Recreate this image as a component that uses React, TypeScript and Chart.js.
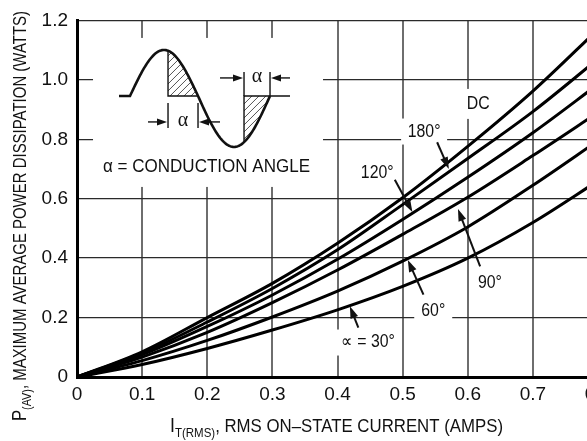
import React, { useEffect, useRef } from 'react';
import { Chart, registerables } from 'chart.js';

Chart.register(...registerables);

// ---------- data ----------
const xCurrent = [0, 0.1, 0.2, 0.3, 0.4, 0.5, 0.6, 0.7, 0.8];
const powerDC = [0, 0.085, 0.2, 0.315, 0.45, 0.603, 0.776, 0.962, 1.17];
const power180 = [0, 0.08, 0.185, 0.298, 0.428, 0.58, 0.735, 0.893, 1.07];
const power120 = [0, 0.075, 0.17, 0.276, 0.396, 0.53, 0.672, 0.822, 0.985];
const power90 = [0, 0.067, 0.15, 0.25, 0.36, 0.48, 0.605, 0.745, 0.89];
const power60 = [0, 0.055, 0.123, 0.202, 0.289, 0.39, 0.505, 0.645, 0.795];
const power30 = [0, 0.042, 0.096, 0.158, 0.226, 0.305, 0.4, 0.52, 0.66];

const seriesNames = ['DC', '180°', '120°', '90°', '60°', '30°'];
const seriesValues = [powerDC, power180, power120, power90, power60, power30];

const xTickLabels = ['0', '0.1', '0.2', '0.3', '0.4', '0.5', '0.6', '0.7', '0.8'];
const yTickLabels = ['0', '0.2', '0.4', '0.6', '0.8', '1.0', '1.2'];

const curveLabelTexts = ['DC', '180°', '120°', '90°', '60°', '∝ = 30°'];

// ---------- annotation layout (data coordinates) ----------
const labelAnchors = [
  { x: 0.616, y: 0.919, box: true, bw: 32, bh: 30 },
  { x: 0.533, y: 0.826, box: true, bw: 46, bh: 26 },
  { x: 0.461, y: 0.685, box: true, bw: 40, bh: 22 },
  { x: 0.634, y: 0.315, box: true, bw: 34, bh: 22 },
  { x: 0.547, y: 0.222, box: true, bw: 38, bh: 24 },
  { x: 0.447, y: 0.116, box: true, bw: 66, bh: 26 },
];
// arrows: from (x1,y1) to tip (x2,y2), data coords
const arrowDefs = [
  { x1: 0.553, y1: 0.79, x2: 0.571, y2: 0.7 },
  { x1: 0.488, y1: 0.664, x2: 0.515, y2: 0.555 },
  { x1: 0.619, y1: 0.372, x2: 0.585, y2: 0.565 },
  { x1: 0.532, y1: 0.277, x2: 0.508, y2: 0.394 },
  { x1: 0.432, y1: 0.166, x2: 0.419, y2: 0.238 },
];
const insetTopLeft = { x: 0.0246, y: 1.141 };

const CW = 620;
const CH = 441;
const FONT = "'Liberation Sans', Arial, sans-serif";
const TICK_FONT = "'Liberation Sans Narrow', 'Liberation Sans', Arial, sans-serif";

function drawArrow(ctx: CanvasRenderingContext2D, x1: number, y1: number, x2: number, y2: number, hl = 11, hw = 3.6) {
  const a = Math.atan2(y2 - y1, x2 - x1);
  const c = Math.cos(a), s = Math.sin(a);
  ctx.beginPath();
  ctx.moveTo(x1, y1);
  ctx.lineTo(x2 - c * hl * 0.7, y2 - s * hl * 0.7);
  ctx.stroke();
  ctx.beginPath();
  ctx.moveTo(x2, y2);
  ctx.lineTo(x2 - hl * c + hw * s, y2 - hl * s - hw * c);
  ctx.lineTo(x2 - hl * c - hw * s, y2 - hl * s + hw * c);
  ctx.closePath();
  ctx.fill();
}

function condText(ctx: CanvasRenderingContext2D, text: string, cx: number, cy: number, font: string, sx: number) {
  ctx.save();
  ctx.translate(cx, cy);
  ctx.scale(sx, 1);
  ctx.font = font;
  ctx.textAlign = 'center';
  ctx.textBaseline = 'middle';
  ctx.fillText(text, 0, 0);
  ctx.restore();
}

type Seg = { t: string; size: number; dy: number };
function drawSegments(ctx: CanvasRenderingContext2D, segs: Seg[], length: number) {
  let total = 0;
  const widths = segs.map((s) => {
    ctx.font = `${s.size}px ${FONT}`;
    const w = ctx.measureText(s.t).width;
    total += w;
    return w;
  });
  const sx = length / total;
  ctx.save();
  ctx.scale(sx, 1);
  let x = 0;
  segs.forEach((s, i) => {
    ctx.font = `${s.size}px ${FONT}`;
    ctx.textAlign = 'left';
    ctx.textBaseline = 'alphabetic';
    ctx.fillText(s.t, x, s.dy);
    x += widths[i];
  });
  ctx.restore();
}

function drawInset(ctx: CanvasRenderingContext2D, ox: number, oy: number) {
  const base = oy + 58;
  const p0 = ox + 37, p1 = ox + 105, p2 = ox + 177;
  const posY = (x: number) => base - 46 * Math.sin((Math.PI * (x - p0)) / (p1 - p0));
  const negY = (x: number) => base + 51 * Math.sin((Math.PI * (x - p1)) / (p2 - p1));
  const curveY = (x: number) => (x <= p1 ? posY(x) : negY(x));

  ctx.save();
  // hatch region 1
  const h1a = ox + 75;
  ctx.save();
  ctx.beginPath();
  ctx.moveTo(h1a, base);
  for (let x = h1a; x <= p1; x += 1) ctx.lineTo(x, curveY(x));
  ctx.lineTo(p1, base);
  ctx.closePath();
  ctx.clip();
  ctx.strokeStyle = '#555';
  ctx.lineWidth = 1;
  for (let k = -80; k < 120; k += 7) {
    ctx.beginPath();
    ctx.moveTo(h1a + k, base + 5);
    ctx.lineTo(h1a + k + 60, base - 55);
    ctx.stroke();
  }
  ctx.restore();
  // hatch region 2
  const h2a = ox + 151;
  ctx.save();
  ctx.beginPath();
  ctx.moveTo(h2a, base);
  for (let x = h2a; x <= p2; x += 1) ctx.lineTo(x, curveY(x));
  ctx.lineTo(p2, base);
  ctx.closePath();
  ctx.clip();
  ctx.strokeStyle = '#555';
  ctx.lineWidth = 1;
  for (let k = -80; k < 120; k += 7) {
    ctx.beginPath();
    ctx.moveTo(h2a + k, base + 60);
    ctx.lineTo(h2a + k + 60, base);
    ctx.stroke();
  }
  ctx.restore();

  ctx.strokeStyle = '#111';
  ctx.fillStyle = '#111';
  // sine curve
  ctx.lineWidth = 2.6;
  ctx.beginPath();
  ctx.moveTo(ox + 26, base);
  ctx.lineTo(p0, base);
  for (let x = p0; x <= p2; x += 1) ctx.lineTo(x, curveY(x));
  ctx.stroke();

  ctx.lineWidth = 1.4;
  // hatch borders
  ctx.beginPath();
  ctx.moveTo(h1a, curveY(h1a));
  ctx.lineTo(h1a, base);
  ctx.lineTo(p1, base);
  ctx.moveTo(h2a, curveY(h2a));
  ctx.lineTo(h2a, base);
  ctx.lineTo(ox + 197, base);
  ctx.stroke();
  // dimension lines
  ctx.beginPath();
  ctx.moveTo(h1a, oy + 65); ctx.lineTo(h1a, oy + 90);
  ctx.moveTo(p1, oy + 65); ctx.lineTo(p1, oy + 90);
  ctx.moveTo(h2a, oy + 34); ctx.lineTo(h2a, base);
  ctx.moveTo(p2, oy + 34); ctx.lineTo(p2, base);
  ctx.stroke();
  drawArrow(ctx, ox + 55, oy + 84, h1a - 1, oy + 84, 10, 3.5);
  drawArrow(ctx, ox + 127, oy + 84, p1 + 1, oy + 84, 10, 3.5);
  drawArrow(ctx, ox + 127, oy + 40, h2a - 1, oy + 40, 10, 3.5);
  drawArrow(ctx, ox + 197, oy + 40, p2 + 1, oy + 40, 10, 3.5);
  ctx.font = "20px 'Liberation Serif', serif";
  ctx.textAlign = 'center';
  ctx.textBaseline = 'middle';
  ctx.fillText('α', ox + 90, oy + 83);
  ctx.fillText('α', ox + 164, oy + 39);
  // caption
  ctx.save();
  ctx.translate(ox + 10, oy + 134);
  drawSegments(ctx, [{ t: 'α', size: 19, dy: 0 }, { t: ' = CONDUCTION ANGLE', size: 19, dy: 0 }], 207);
  ctx.restore();
  ctx.restore();
}

const annotationPlugin = {
  id: 'annotations',
  beforeDatasetsDraw(chart: any) {
    const ctx = chart.ctx as CanvasRenderingContext2D;
    const xs = chart.scales.x, ys = chart.scales.y;
    ctx.save();
    ctx.fillStyle = '#fff';
    // inset box
    const ox = xs.getPixelForValue(insetTopLeft.x);
    const oy = ys.getPixelForValue(insetTopLeft.y);
    ctx.fillRect(ox, oy, 230, 149);
    labelAnchors.forEach((a) => {
      const cx = xs.getPixelForValue(a.x), cy = ys.getPixelForValue(a.y);
      ctx.fillRect(cx - a.bw / 2, cy - a.bh / 2, a.bw, a.bh);
    });
    ctx.restore();
  },
  afterDatasetsDraw(chart: any) {
    const ctx = chart.ctx as CanvasRenderingContext2D;
    const xs = chart.scales.x, ys = chart.scales.y;
    ctx.save();
    ctx.fillStyle = '#111';
    ctx.strokeStyle = '#111';
    ctx.lineWidth = 2;
    labelAnchors.forEach((a, i) => {
      const cx = xs.getPixelForValue(a.x), cy = ys.getPixelForValue(a.y);
      condText(ctx, curveLabelTexts[i], cx, cy, `18px ${FONT}`, 0.88);
    });
    arrowDefs.forEach((d) => {
      drawArrow(ctx, xs.getPixelForValue(d.x1), ys.getPixelForValue(d.y1), xs.getPixelForValue(d.x2), ys.getPixelForValue(d.y2), 12, 4);
    });
    drawInset(ctx, xs.getPixelForValue(insetTopLeft.x), ys.getPixelForValue(insetTopLeft.y));

    // axis titles
    ctx.fillStyle = '#111';
    ctx.save();
    ctx.translate(170, 432);
    drawSegments(ctx, [
      { t: 'I', size: 20, dy: 0 },
      { t: 'T(RMS)', size: 13, dy: 5 },
      { t: ', RMS ON–STATE CURRENT (AMPS)', size: 19, dy: 0 },
    ], 333);
    ctx.restore();
    ctx.save();
    ctx.translate(25.5, 421);
    ctx.rotate(-Math.PI / 2);
    drawSegments(ctx, [
      { t: 'P', size: 20, dy: 0 },
      { t: '(AV)', size: 13, dy: 5 },
      { t: ', MAXIMUM AVERAGE POWER DISSIPATION (WATTS)', size: 18, dy: 0 },
    ], 410);
    ctx.restore();
    ctx.restore();
  },
};

export default function App() {
  const ref = useRef<HTMLCanvasElement | null>(null);
  useEffect(() => {
    if (!ref.current) return;
    const datasets = seriesNames.map((name, i) => ({
      label: name,
      data: xCurrent.map((x, j) => ({ x, y: seriesValues[i][j] })),
      borderColor: '#000',
      borderWidth: 3,
      pointRadius: 0,
      cubicInterpolationMode: 'monotone' as const,
      fill: false,
    }));
    const chart = new Chart(ref.current, {
      type: 'line',
      data: { datasets },
      options: {
        responsive: false,
        animation: false,
        layout: { padding: { top: 15, right: 22, left: 0, bottom: 0 } },
        plugins: { legend: { display: false }, tooltip: { enabled: false } },
        scales: {
          x: {
            type: 'linear',
            min: 0,
            max: 0.8,
            afterFit: (s: any) => { s.height = 64; },
            ticks: {
              stepSize: 0.1,
              autoSkip: false,
              maxRotation: 0,
              padding: 6,
              color: '#111',
              font: { family: TICK_FONT, size: 19 },
              callback: (_v: any, i: number) => xTickLabels[i],
            },
            grid: { color: '#6e6e6e', lineWidth: 2, drawTicks: false },
            border: { color: '#000', width: 3 },
          },
          y: {
            type: 'linear',
            min: 0,
            max: 1.2,
            afterFit: (s: any) => { s.width = 77; },
            ticks: {
              stepSize: 0.2,
              padding: 9,
              color: '#111',
              font: { family: TICK_FONT, size: 19 },
              callback: (_v: any, i: number) => yTickLabels[i],
            },
            grid: { color: '#2a2a2a', lineWidth: 1.3, drawTicks: false },
            border: { color: '#000', width: 3 },
          },
        },
      },
      plugins: [annotationPlugin],
    });
    return () => chart.destroy();
  }, []);
  return (
    <div style={{ position: 'fixed', left: 0, top: 0, width: 587, height: 441, overflow: 'hidden', background: '#fff' }}>
      <canvas ref={ref} width={CW} height={CH} style={{ width: CW, height: CH, display: 'block' }} />
    </div>
  );
}
